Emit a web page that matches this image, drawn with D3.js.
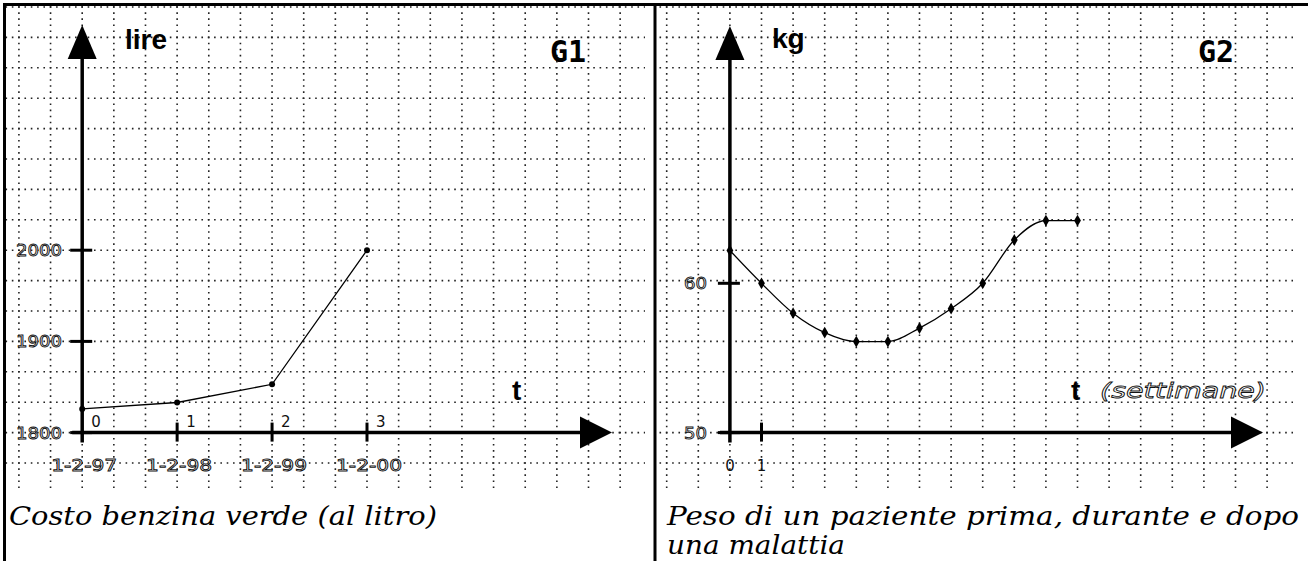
<!DOCTYPE html>
<html>
<head>
<meta charset="utf-8">
<script src="https://cdn.jsdelivr.net/npm/d3@7"></script>
<style>
  body { margin: 0; background: #fff; }
  svg { display: block; }
  .bold { font-family: "Liberation Sans", Arial, sans-serif; font-weight: bold; fill: #000; }
  .mono { font-family: "DejaVu Sans Mono", monospace; font-weight: bold; fill: #000; }
  .outline { font-family: "DejaVu Sans", sans-serif; fill: #fff; stroke: #111; stroke-width: 0.85; opacity: 0.99; }
  .small { font-family: "DejaVu Sans", sans-serif; fill: #111; }
  .caption { font-family: "DejaVu Serif", serif; font-style: italic; font-size: 26px; fill: #000; }
</style>
</head>
<body>
<svg id="chart" width="1308" height="561"></svg>
<script>
// G1: costo benzina verde (lire al litro)
const g1Years = [0, 1, 2, 3];
const g1Dates = ["1-2-97", "1-2-98", "1-2-99", "1-2-00"];
const g1Prices = [1826, 1833, 1853, 2000];
const g1YTicks = [1800, 1900, 2000];

// G2: peso di un paziente (kg) per settimana
const g2Weeks = [0, 1, 2, 3, 4, 5, 6, 7, 8, 9, 10, 11];
const g2Weights = [62.2, 60, 58, 56.7, 56.1, 56.1, 57, 58.3, 60, 62.9, 64.2, 64.2];
const g2YTicks = [50, 60];
const g2XTicks = [0, 1];

const svg = d3.select("#chart");

// paper grid rows, shared by both panels
const row = d3.scaleLinear().domain([0, 15]).range([7, 463]);
const rows = d3.range(0, 16);
const cols = d3.range(0, 20);

// scales
const x1 = d3.scaleLinear().domain([0, 3]).range([82.2, 367]);
const y1 = d3.scaleLinear().domain([1800, 2000]).range([row(14), row(8)]);
const x2 = d3.scaleLinear().domain([0, 1]).range([729.9, 761.5]);
const y2 = d3.scaleLinear().domain([50, 60]).range([row(14), 283.3]);

function grid(g, colX, left, right) {
    g.selectAll(".gv")
        .data(cols)
        .enter()
        .append("line")
        .attr("x1", colX).attr("x2", colX)
        .attr("y1", 6.2).attr("y2", 490)
        .attr("stroke", "#222")
        .attr("stroke-width", 1.6)
        .attr("stroke-dasharray", "1.6 4.48");

    g.selectAll(".gh")
        .data(rows)
        .enter()
        .append("line")
        .attr("x1", left).attr("x2", right)
        .attr("y1", d => row(d)).attr("y2", d => row(d))
        .attr("stroke", "#222")
        .attr("stroke-width", 1.6)
        .attr("stroke-dasharray", "1.6 4.72");
}

function axes(g, ox, oy, topY, tipX) {
    g.append("line")
        .attr("x1", ox).attr("x2", ox)
        .attr("y1", oy + 10).attr("y2", topY + 30)
        .attr("stroke", "#000").attr("stroke-width", 3.5);
    g.append("path")
        .attr("d", `M${ox},${topY} L${ox - 14.5},${topY + 34} L${ox + 14.5},${topY + 34} Z`)
        .attr("fill", "#000");
    g.append("line")
        .attr("x1", ox - 10).attr("x2", tipX - 28)
        .attr("y1", oy).attr("y2", oy)
        .attr("stroke", "#000").attr("stroke-width", 3.5);
    g.append("path")
        .attr("d", `M${tipX},${oy} L${tipX - 32},${oy - 16} L${tipX - 32},${oy + 16} Z`)
        .attr("fill", "#000");
}

// ---------- G1 ----------
const p1 = svg.append("g");
grid(p1, d => x1((d - 2) / 3), 5.5, 645);
axes(p1, x1(0), y1(1800), 25, 612);

p1.selectAll(".ytick")
    .data(g1YTicks)
    .enter()
    .append("line")
    .attr("x1", x1(0) - 12).attr("x2", x1(0) + 10)
    .attr("y1", d => y1(d)).attr("y2", d => y1(d))
    .attr("stroke", "#000").attr("stroke-width", 3);

p1.selectAll(".ylab")
    .data(g1YTicks)
    .enter()
    .append("text")
    .attr("class", "outline")
    .attr("x", 62)
    .attr("y", d => y1(d) + 6)
    .attr("text-anchor", "end")
    .attr("font-size", 16)
    .attr("textLength", 46)
    .attr("lengthAdjust", "spacingAndGlyphs")
    .text(d => d);

p1.selectAll(".xtick")
    .data(g1Years.slice(1))
    .enter()
    .append("line")
    .attr("x1", d => x1(d)).attr("x2", d => x1(d))
    .attr("y1", y1(1800) - 10).attr("y2", y1(1800) + 9)
    .attr("stroke", "#000").attr("stroke-width", 3);

p1.selectAll(".xnum")
    .data(g1Years)
    .enter()
    .append("text")
    .attr("class", "small")
    .attr("x", d => x1(d) + 9)
    .attr("y", y1(1800) - 6)
    .attr("font-size", 15)
    .text(d => d);

p1.selectAll(".xdate")
    .data(g1Dates)
    .enter()
    .append("text")
    .attr("class", "outline")
    .attr("x", (d, i) => x1(g1Years[i]) + 2)
    .attr("y", 471)
    .attr("text-anchor", "middle")
    .attr("font-size", 16)
    .attr("textLength", 66)
    .attr("lengthAdjust", "spacingAndGlyphs")
    .text(d => d);

const line1 = d3.line()
    .x((d, i) => x1(g1Years[i]))
    .y(d => y1(d));

p1.append("path")
    .datum(g1Prices)
    .attr("d", line1)
    .attr("fill", "none")
    .attr("stroke", "#000")
    .attr("stroke-width", 1.3);

p1.selectAll(".pt")
    .data(g1Prices)
    .enter()
    .append("circle")
    .attr("cx", (d, i) => x1(g1Years[i]))
    .attr("cy", d => y1(d))
    .attr("r", 3)
    .attr("fill", "#000");

p1.append("text").attr("class", "bold").attr("x", 125).attr("y", 49).attr("font-size", 28).text("lire");
p1.append("text").attr("class", "mono").attr("x", 550).attr("y", 62).attr("font-size", 30).text("G1");
p1.append("text").attr("class", "bold").attr("x", 512).attr("y", 400).attr("font-size", 28).text("t");
p1.append("text").attr("class", "caption").attr("x", 9).attr("y", 525)
    .attr("textLength", 428).attr("lengthAdjust", "spacingAndGlyphs")
    .text("Costo benzina verde (al litro)");

// ---------- G2 ----------
const p2 = svg.append("g");
grid(p2, d => x2(d - 2), 659.5, 1293);
axes(p2, x2(0), y2(50), 26, 1263);

p2.selectAll(".ytick")
    .data(g2YTicks)
    .enter()
    .append("line")
    .attr("x1", x2(0) - 12).attr("x2", x2(0) + 10)
    .attr("y1", d => y2(d)).attr("y2", d => y2(d))
    .attr("stroke", "#000").attr("stroke-width", 3);

p2.selectAll(".ylab")
    .data(g2YTicks)
    .enter()
    .append("text")
    .attr("class", "outline")
    .attr("x", 707)
    .attr("y", d => y2(d) + 6)
    .attr("text-anchor", "end")
    .attr("font-size", 16)
    .attr("textLength", 23)
    .attr("lengthAdjust", "spacingAndGlyphs")
    .text(d => d);

p2.selectAll(".xtick")
    .data(g2XTicks.slice(1))
    .enter()
    .append("line")
    .attr("x1", d => x2(d)).attr("x2", d => x2(d))
    .attr("y1", y2(50) - 10).attr("y2", y2(50) + 9)
    .attr("stroke", "#000").attr("stroke-width", 3);

p2.selectAll(".xnum")
    .data(g2XTicks)
    .enter()
    .append("text")
    .attr("class", "small")
    .attr("x", d => x2(d))
    .attr("y", 471)
    .attr("text-anchor", "middle")
    .attr("font-size", 15)
    .text(d => d);

const line2 = d3.line()
    .x((d, i) => x2(g2Weeks[i]))
    .y(d => y2(d))
    .curve(d3.curveMonotoneX);

p2.append("path")
    .datum(g2Weights)
    .attr("d", line2)
    .attr("fill", "none")
    .attr("stroke", "#000")
    .attr("stroke-width", 1.3);

p2.selectAll(".pt")
    .data(g2Weights)
    .enter()
    .append("path")
    .attr("d", d3.symbol(d3.symbolDiamond).size(40))
    .attr("transform", (d, i) => `translate(${x2(g2Weeks[i])},${y2(d)})`)
    .attr("fill", "#000");

p2.append("text").attr("class", "bold").attr("x", 772).attr("y", 48).attr("font-size", 28).text("kg");
p2.append("text").attr("class", "mono").attr("x", 1198).attr("y", 62).attr("font-size", 30).text("G2");
p2.append("text").attr("class", "bold").attr("x", 1071).attr("y", 400).attr("font-size", 28).text("t");
p2.append("text")
    .attr("class", "outline")
    .attr("x", 1100).attr("y", 398)
    .attr("font-size", 22)
    .attr("font-style", "italic")
    .attr("textLength", 166)
    .attr("lengthAdjust", "spacingAndGlyphs")
    .text("(settimane)");
p2.append("text").attr("class", "caption").attr("x", 667).attr("y", 525)
    .attr("textLength", 632).attr("lengthAdjust", "spacingAndGlyphs")
    .text("Peso di un paziente prima, durante e dopo");
p2.append("text").attr("class", "caption").attr("x", 667).attr("y", 554)
    .attr("textLength", 178).attr("lengthAdjust", "spacingAndGlyphs")
    .text("una malattia");

// frame
svg.append("line").attr("x1", 3).attr("x2", 1308).attr("y1", 4.5).attr("y2", 4.5)
    .attr("stroke", "#000").attr("stroke-width", 3);
svg.append("line").attr("x1", 4.5).attr("x2", 4.5).attr("y1", 3).attr("y2", 561)
    .attr("stroke", "#000").attr("stroke-width", 3);
svg.append("line").attr("x1", 655).attr("x2", 655).attr("y1", 3).attr("y2", 561)
    .attr("stroke", "#000").attr("stroke-width", 3);
</script>
</body>
</html>
